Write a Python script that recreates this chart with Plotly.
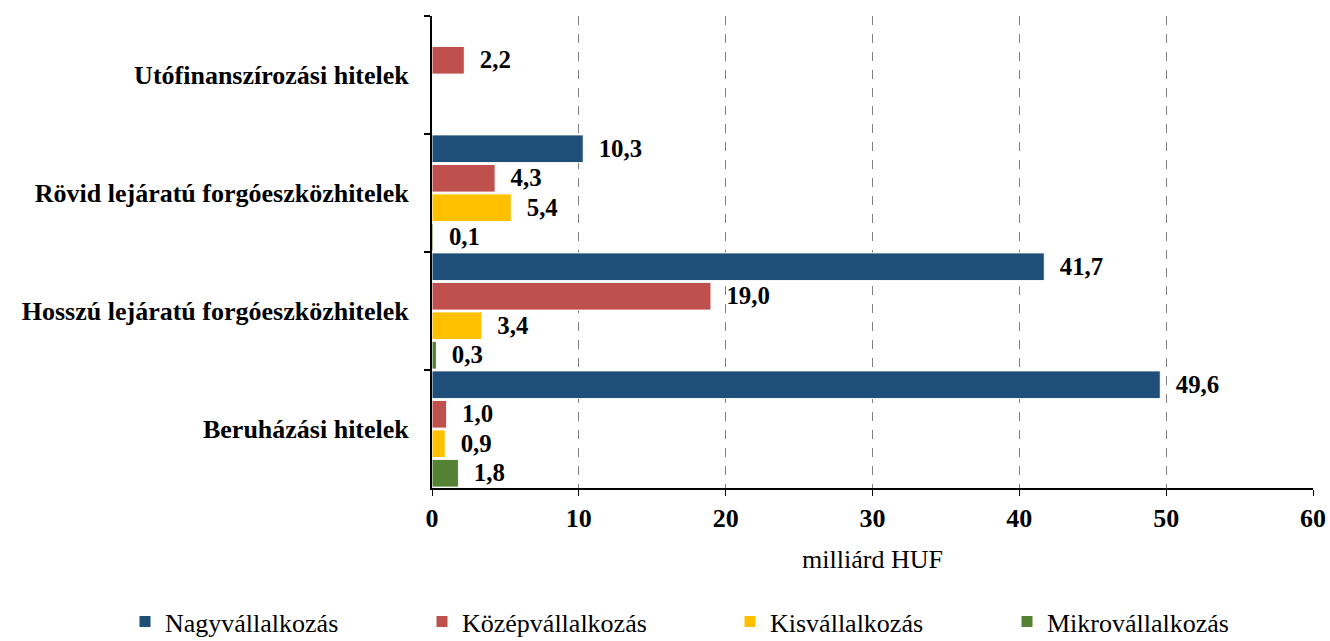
import plotly.graph_objects as go

categories = ["Utófinanszírozási hitelek", "Rövid lejáratú forgóeszközhitelek",
              "Hosszú lejáratú forgóeszközhitelek", "Beruházási hitelek"]
series_names = ["Nagyvállalkozás", "Középvállalkozás", "Kisvállalkozás", "Mikrovállalkozás"]
nagy = [None, 10.3, 41.7, 49.6]
kozep = [2.2, 4.3, 19.0, 1.0]
kis = [None, 5.4, 3.4, 0.9]
mikro = [None, 0.1, 0.3, 1.8]
colors = ["#1F4E79", "#C0504D", "#FFC000", "#548235"]
x_ticks = [0, 10, 20, 30, 40, 50, 60]
legend_x_px = [125, 422, 730, 1007]

FONT = "Liberation Serif"
fig = go.Figure()
legend_ids = ["legend", "legend2", "legend3", "legend4"]
for name, vals, col, lid in zip(series_names, [nagy, kozep, kis, mikro], colors, legend_ids):
    txt = ["" if v is None else "  " + f"{v:.1f}".replace(".", ",") for v in vals]
    fig.add_trace(go.Bar(
        y=categories, x=vals, name=name, orientation="h", legend=lid,
        marker=dict(color=col, line=dict(color="white", width=1)),
        text=txt, textposition="outside", cliponaxis=False,
        textfont=dict(family=FONT, size=26, color="black", weight="bold"),
    ))

legend_common = dict(orientation="h", xanchor="left", xref="container",
                     y=-0.283, yanchor="middle", yref="paper",
                     font=dict(family=FONT, size=26), itemwidth=30,
                     bgcolor="rgba(0,0,0,0)")
fig.update_layout(
    width=1330, height=641,
    barmode="group", bargap=0.0, bargroupgap=0.06,
    plot_bgcolor="white", paper_bgcolor="white",
    margin=dict(l=432, r=17, t=16, b=153, autoexpand=False),
    font=dict(family=FONT, size=26, color="black"),
    showlegend=True,
    legend=dict(x=legend_x_px[0] / 1330, **legend_common),
    legend2=dict(x=legend_x_px[1] / 1330, **legend_common),
    legend3=dict(x=legend_x_px[2] / 1330, **legend_common),
    legend4=dict(x=legend_x_px[3] / 1330, **legend_common),
)
fig.update_xaxes(
    range=[0, 60], tickvals=x_ticks, ticktext=[str(t) for t in x_ticks],
    showgrid=True, gridcolor="#808080", griddash="dash", gridwidth=1,
    showline=True, linecolor="black", linewidth=2,
    ticks="outside", ticklen=6, tickcolor="black", tickwidth=1,
    ticklabelstandoff=0,
    tickfont=dict(family=FONT, size=26, weight="bold"),
    title=dict(text="milliárd HUF", font=dict(family=FONT, size=26), standoff=18),
    zeroline=False, automargin=False,
)
fig.update_yaxes(
    autorange="reversed", type="category",
    showline=True, linecolor="black", linewidth=2,
    ticks="outside", ticklen=6, tickcolor="black", tickwidth=2,
    tickson="boundaries", ticklabelstandoff=16,
    tickfont=dict(family=FONT, size=26, weight="bold"),
    showgrid=False, automargin=False,
)
fig.write_html("out.html", config={"displayModeBar": False},
               post_script="document.body.style.margin='0';")
